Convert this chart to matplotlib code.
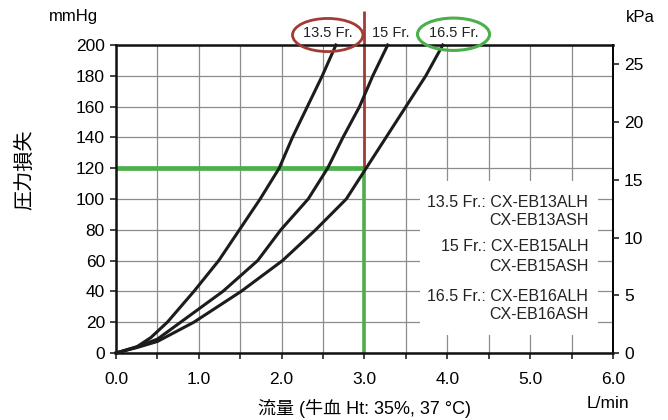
import matplotlib
matplotlib.use('Agg')
import matplotlib.pyplot as plt
from matplotlib.patches import Ellipse, Rectangle

# ---- data ----
sizes = ["13.5 Fr.", "15 Fr.", "16.5 Fr."]
flow_135 = [0, 0.25, 0.42, 0.62, 0.94, 1.24, 1.49, 1.74, 1.97, 2.13, 2.31, 2.49, 2.655]
press_135 = [0, 4, 10, 20, 40, 60, 80, 100, 120, 140, 160, 180, 200]
flow_15 = [0, 0.25, 0.5, 0.78, 1.29, 1.71, 1.99, 2.32, 2.555, 2.74, 2.94, 3.10, 3.28]
press_15 = [0, 4, 9, 20, 40, 60, 80, 100, 120, 140, 160, 180, 200]
flow_165 = [0, 0.25, 0.5, 0.94, 1.51, 2.01, 2.41, 2.78, 3.02, 3.26, 3.50, 3.74, 3.945]
press_165 = [0, 3.5, 7.5, 20, 40, 60, 80, 100, 120, 140, 160, 180, 200]

x_ticks = [0.0, 1.0, 2.0, 3.0, 4.0, 5.0, 6.0]
y_ticks = [0, 20, 40, 60, 80, 100, 120, 140, 160, 180, 200]
kpa_ticks = [0, 5, 10, 15, 20, 25]
ref_flow = 3.0
ref_pressure = 120
legend_lines = ["13.5 Fr.: CX-EB13ALH", "CX-EB13ASH",
                "15 Fr.: CX-EB15ALH", "CX-EB15ASH",
                "16.5 Fr.: CX-EB16ALH", "CX-EB16ASH"]
MMHG_PER_KPA = 7.50062

LAT = 'Liberation Sans'
FAM = [LAT, 'Noto Sans CJK JP']
plt.rcParams['font.family'] = FAM

fig = plt.figure(figsize=(6.68, 4.2), dpi=100)
ax = fig.add_axes([0.17365, 0.1595, 0.744, 0.7333])
ax.set_xlim(0, 6)
ax.set_ylim(0, 200)

# grid every 0.5 in x, 20 in y
minor_x = [i * 0.5 for i in range(13)]
ax.set_xticks(minor_x)
ax.set_xticklabels([f"{v:.1f}" if v in x_ticks else "" for v in minor_x], fontsize=12.5)
ax.set_yticks(y_ticks)
ax.set_yticklabels([str(v) for v in y_ticks], fontsize=12.5)
ax.grid(True, color='#8c8c8c', lw=0.9, zorder=0)
ax.set_axisbelow(True)
ax.tick_params(direction='out', length=4, width=1.2, color='#222222', pad=4)
ax.tick_params(axis='x', pad=10)

for s in ['left', 'bottom', 'top']:
    ax.spines[s].set_linewidth(1.8)
    ax.spines[s].set_color('#111111')
ax.spines['right'].set_linewidth(1.4)

# white box behind legend text
ax.add_patch(Rectangle((3.67, 11.7), 2.15, 100.3, facecolor='white',
                       edgecolor='none', zorder=1))

# reference lines
ax.plot([0, ref_flow], [ref_pressure, ref_pressure], color='#4caf4c', lw=3.4,
        zorder=2, solid_capstyle='butt')
ax.plot([ref_flow, ref_flow], [0, ref_pressure], color='#4caf4c', lw=2.6,
        zorder=2, solid_capstyle='butt')
ax.plot([ref_flow, ref_flow], [ref_pressure, 222], color='#a33a35', lw=2.0,
        zorder=2, clip_on=False, solid_capstyle='butt')

# curves
for fx, py in [(flow_135, press_135), (flow_15, press_15), (flow_165, press_165)]:
    ax.plot(fx, py, color='#1c1c1c', lw=2.2, zorder=3, clip_on=False)

# size labels and ellipses
size_x = [2.556, 3.32, 4.08]
for lab, sx in zip(sizes, size_x):
    ax.text(sx, 207.5, lab, ha='center', va='center', fontsize=10.5,
            family=LAT, color='#222222', clip_on=False)
ax.add_patch(Ellipse((2.556, 206.5), 0.85, 21.5, fill=False, edgecolor='#a33a35',
                     lw=2.0, clip_on=False, zorder=4))
ax.add_patch(Ellipse((4.075, 207), 0.87, 21, fill=False, edgecolor='#4caf4c',
                     lw=2.2, clip_on=False, zorder=4))

# legend text
leg_y = [98, 86, 69, 56, 37, 24.7]
for t, yy in zip(legend_lines, leg_y):
    ax.text(5.70, yy, t, ha='right', va='center', fontsize=11.5, family=LAT,
            color='#222222', zorder=5)

# right axis in kPa
ax2 = ax.twinx()
ax2.set_position(ax.get_position())
ax2.set_ylim(0, 200 / MMHG_PER_KPA)
ax2.set_yticks(kpa_ticks)
ax2.set_yticklabels([str(v) for v in kpa_ticks], fontsize=12.5)
ax2.tick_params(direction='out', length=4, width=1.2, color='#222222', pad=4)
for s in ax2.spines.values():
    s.set_visible(False)

# labels
fig.text(73 / 668, 1 - 17 / 420, 'mmHg', ha='center', va='center', fontsize=12)
fig.text(640 / 668, 1 - 17 / 420, 'kPa', ha='center', va='center', fontsize=12)
fig.text(608 / 668, 1 - 404 / 420, 'L/min', ha='center', va='center', fontsize=12.5)
fig.text(365 / 668, 1 - 409 / 420, '流量 (牛血 Ht: 35%, 37 °C)', ha='center',
         va='center', fontsize=13, family=FAM)
fig.text(25 / 668, 1 - 170 / 420, '圧力損失', ha='center', va='center',
         fontsize=14.5, rotation=90, family=['Noto Sans CJK JP'])

fig.savefig('out.png', dpi=100)
